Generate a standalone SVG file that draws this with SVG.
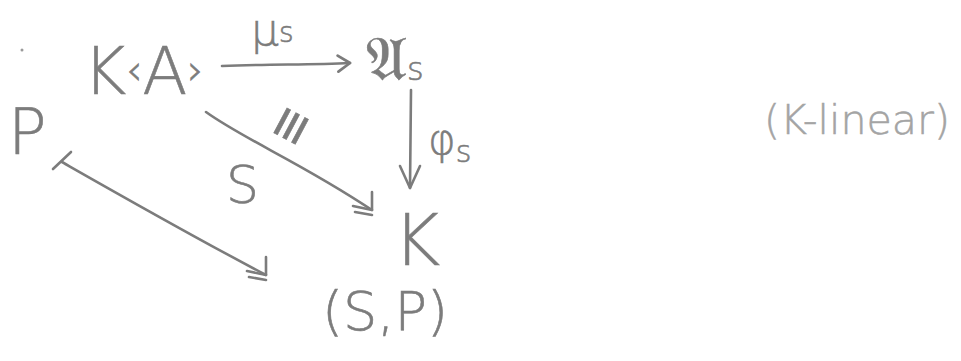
<svg xmlns="http://www.w3.org/2000/svg" width="961" height="361" viewBox="0 0 961 361">
  <style>
    .ink { fill: #7c7c7c; stroke: #7c7c7c; stroke-width: 0.6; font-family: "DejaVu Sans", "Liberation Sans", sans-serif; font-weight: 200; }
    .light { fill: #a4a4a4; stroke: #a4a4a4; stroke-width: 0.5; font-family: "DejaVu Sans", "Liberation Sans", sans-serif; font-weight: 200; }
    .line { fill: none; stroke: #7c7c7c; stroke-width: 2.6; stroke-linecap: round; stroke-linejoin: round; }
  </style>
  <defs>
    <!-- open arrow tip: fixed right-angle head used on the diagonal maps -->
    <marker id="corner" markerUnits="userSpaceOnUse" markerWidth="30" markerHeight="30" refX="22" refY="22" orient="0" overflow="visible">
      <path d="M22,4 L22,22 M3,18 L22,22 M5,24 L22,27" fill="none" stroke="#7c7c7c" stroke-width="2.6" stroke-linecap="round"/>
    </marker>
    <marker id="head" markerUnits="userSpaceOnUse" markerWidth="20" markerHeight="20" refX="14" refY="8" orient="auto" overflow="visible">
      <path d="M2,0 L14,8 L2,16" fill="none" stroke="#7c7c7c" stroke-width="2.8" stroke-linecap="round" stroke-linejoin="round"/>
    </marker>
  </defs>

  <circle cx="22" cy="50" r="1.5" fill="#9a9a9a"/>

  <g id="KA">
    <text class="ink" x="83" y="94" font-size="66">K<tspan font-size="40" dy="-10">‹</tspan><tspan dy="10">A</tspan><tspan font-size="40" dy="-10">›</tspan></text>
  </g>
  <g id="As">
    <text class="ink" x="366" y="80" font-size="62">𝔄<tspan font-size="32" dy="0">s</tspan></text>
  </g>
  <g id="K">
    <text class="ink" x="393" y="265" font-size="72">K</text>
  </g>
  <g id="P">
    <text class="ink" x="8" y="154" font-size="64">P</text>
  </g>
  <g id="SP">
    <text class="ink" x="322" y="330" font-size="54">(S,P)</text>
  </g>
  <g id="note">
    <text class="light" x="764" y="134" font-size="40" textLength="186" lengthAdjust="spacingAndGlyphs">(K-linear)</text>
  </g>

  <g id="connectors">
    <path class="line" d="M222,66 C270,64 310,65 350,63" marker-end="url(#head)"/>
    <text class="ink" x="251" y="45" font-size="44">μ<tspan font-size="28" dy="-3">s</tspan></text>

    <path class="line" d="M411,90 L410,188"/>
    <path class="line" d="M400,166 L410,188 L420,166"/>
    <text class="ink" x="428" y="154" font-size="42">φ<tspan font-size="30" dy="8">s</tspan></text>

    <path class="line" d="M206,112 C245,140 300,162 372,210" marker-end="url(#corner)"/>
    <text class="ink" x="226" y="203" font-size="52">S</text>
    <text class="ink" x="0" y="0" font-size="58" transform="translate(300,150) rotate(-62)">≡</text>

    <path class="line" d="M62,162 C120,195 190,235 266,275" marker-end="url(#corner)"/>
    <path class="line" d="M53,169 L71,152"/>
  </g>
</svg>
